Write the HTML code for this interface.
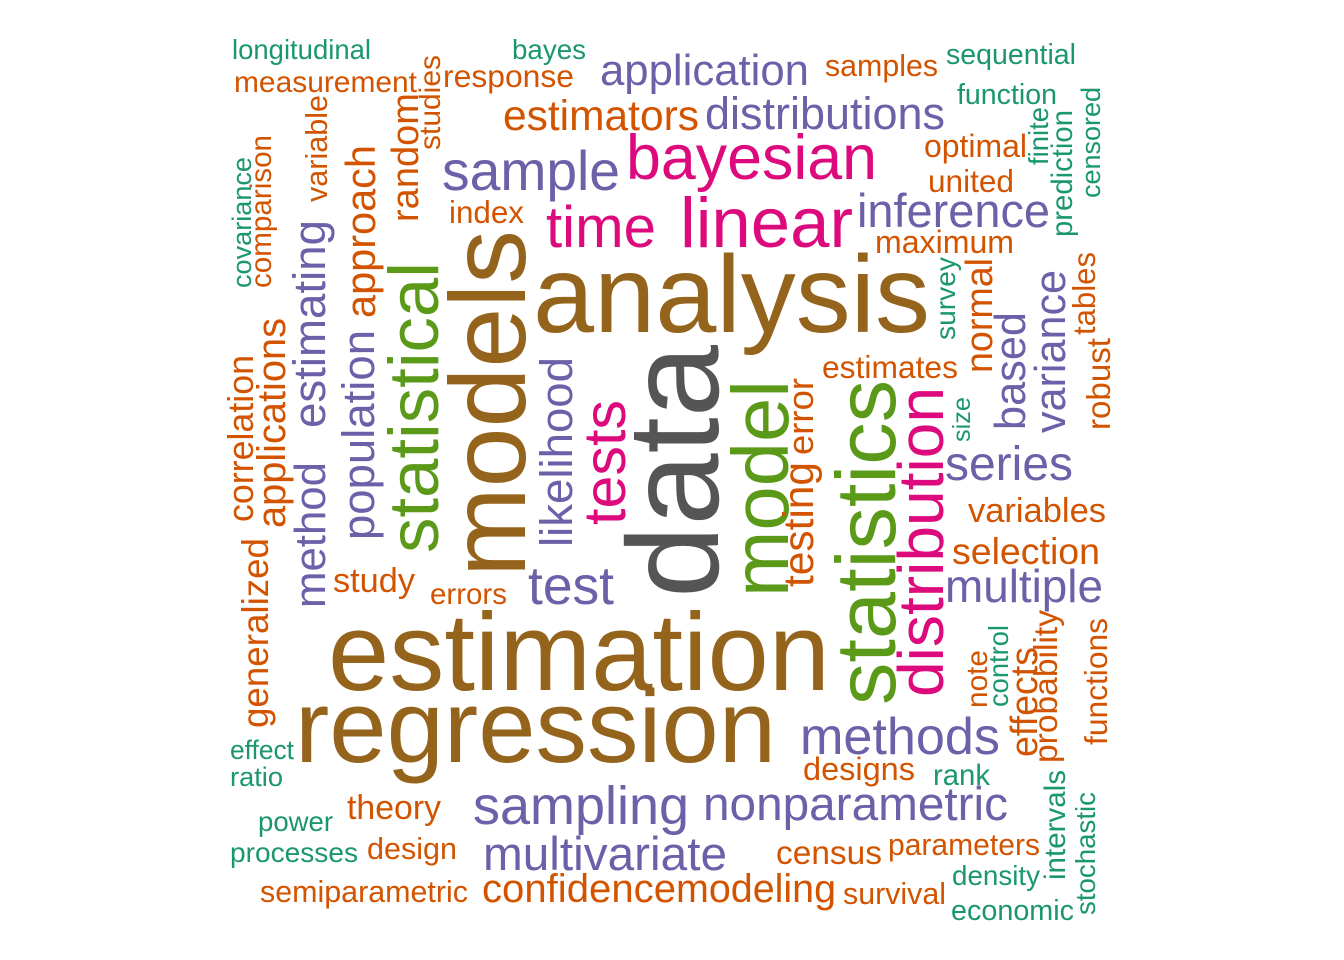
<!DOCTYPE html>
<html><head><meta charset="utf-8"><title>Word cloud</title>
<style>
html,body{margin:0;padding:0;background:#fff;}
svg{display:block;}
text{font-family:"Liberation Sans",Arial,sans-serif;}
</style></head>
<body>
<svg id="cloud" width="1344" height="960" viewBox="0 0 1344 960" xmlns="http://www.w3.org/2000/svg">
<rect width="1344" height="960" fill="#ffffff"/>
</svg>
<script>
const palette = {t:"#1B9770",o:"#D35400",p:"#6A61A8",k:"#DC0A7C",g:"#5A9A18",b:"#95641C",d:"#555555"};
// Horizontal words: word, color, left x, right x, baseline y
const hWords = ["longitudinal","bayes","measurement","response","application","samples","sequential","function","estimators","distributions","sample","bayesian","optimal","united","index","time","linear","inference","maximum","analysis","estimates","series","variables","selection","multiple","study","errors","test","estimation","regression","methods","effect","ratio","designs","rank","theory","sampling","nonparametric","power","processes","design","multivariate","census","parameters","density","semiparametric","confidence","modeling","survival","economic"];
const hColors = ["t","t","o","o","p","o","t","t","o","p","p","k","o","o","o","k","k","p","o","b","o","p","o","o","p","o","o","p","b","b","p","t","t","o","t","o","p","p","t","t","o","p","o","o","t","o","o","o","o","t"];
const hX1 = [232,512,234,443,600,825,946,957,503,705,442,626,924,928,449,546,680,857,875,533,822,945,968,952,945,333,430,528,328,295,800,230,230,803,933,347,473,703,258,230,367,483,776,888,952,260,482,676,843,951];
const hX2 = [371,586,417,574,809,938,1076,1057,699,945,620,877,1027,1014,524,656,853,1050,1014,930,958,1073,1106,1100,1103,415,507,614,830,776,1000,294,283,915,990,441,689,1008,333,358,457,727,882,1040,1040,468,676,836,946,1074];
const hBase = [59,59,92,87,85,76,64,104,130,129,190,179,157,192,223,247,247,227,253,332,378,480,522,564,602,592,604,604,690,762,754,759,786,780,785,819,824,820,831,862,859,870,864,855,885,902,902,902,904,920];
// Vertical words (rotated -90): word, color, baseline x, bottom y, top y
const vWords = ["studies","random","variable","covariance","comparison","approach","population","statistical","models","likelihood","tests","data","model","error","testing","statistics","distribution","survey","normal","based","variance","size","tables","robust","finite","prediction","censored","note","control","effects","probability","functions","intervals","stochastic","correlation","applications","estimating","method","generalized"];
const vColors = ["o","o","o","t","o","o","p","g","b","p","k","d","g","o","o","g","k","t","o","p","p","t","o","o","t","t","t","o","t","o","o","o","t","t","o","o","p","p","o"];
const vBaseX = [440,418,327,251,271,375,374,438,525,572,625,718,788,813,813,895,943,955,992,1025,1065,970,1095,1110,1048,1072,1100,987,1008,1037,1057,1107,1065,1095,253,285,325,325,268];
const vBottom = [150,222,202,288,288,318,540,553,577,547,525,598,597,455,587,705,697,340,373,430,433,442,335,430,165,237,198,708,707,757,763,745,880,915,522,528,428,608,728];
const vTop = [55,93,95,157,135,145,330,262,230,357,400,345,380,378,462,380,387,257,258,312,270,397,252,338,107,110,87,650,625,647,610,618,770,792,355,318,220,462,538];

const svg = document.getElementById('cloud');
const NS = "http://www.w3.org/2000/svg";
const ctx = document.createElement('canvas').getContext('2d');
ctx.font = '100px "Liberation Sans", Arial, sans-serif';
function fontFor(word, len){ return len * 100 / ctx.measureText(word).width; }

for (let i = 0; i < hWords.length; i++) {
  const len = hX2[i] - hX1[i];
  const t = document.createElementNS(NS, 'text');
  
  
  t.setAttribute('x', hX1[i]);
  t.setAttribute('y', hBase[i]);
  t.setAttribute('font-size', fontFor(hWords[i], len).toFixed(1));
  t.setAttribute('textLength', len);
  t.setAttribute('lengthAdjust', 'spacingAndGlyphs');
  t.setAttribute('fill', palette[hColors[i]]);
  t.textContent = hWords[i];
  svg.appendChild(t);
}
for (let i = 0; i < vWords.length; i++) {
  const len = vBottom[i] - vTop[i];
  const t = document.createElementNS(NS, 'text');
  
  
  t.setAttribute('x', 0);
  t.setAttribute('y', 0);
  t.setAttribute('transform', 'translate(' + vBaseX[i] + ',' + vBottom[i] + ') rotate(-90)');
  t.setAttribute('font-size', fontFor(vWords[i], len).toFixed(1));
  t.setAttribute('textLength', len);
  t.setAttribute('lengthAdjust', 'spacingAndGlyphs');
  t.setAttribute('fill', palette[vColors[i]]);
  t.textContent = vWords[i];
  svg.appendChild(t);
}
</script>
</body></html>
